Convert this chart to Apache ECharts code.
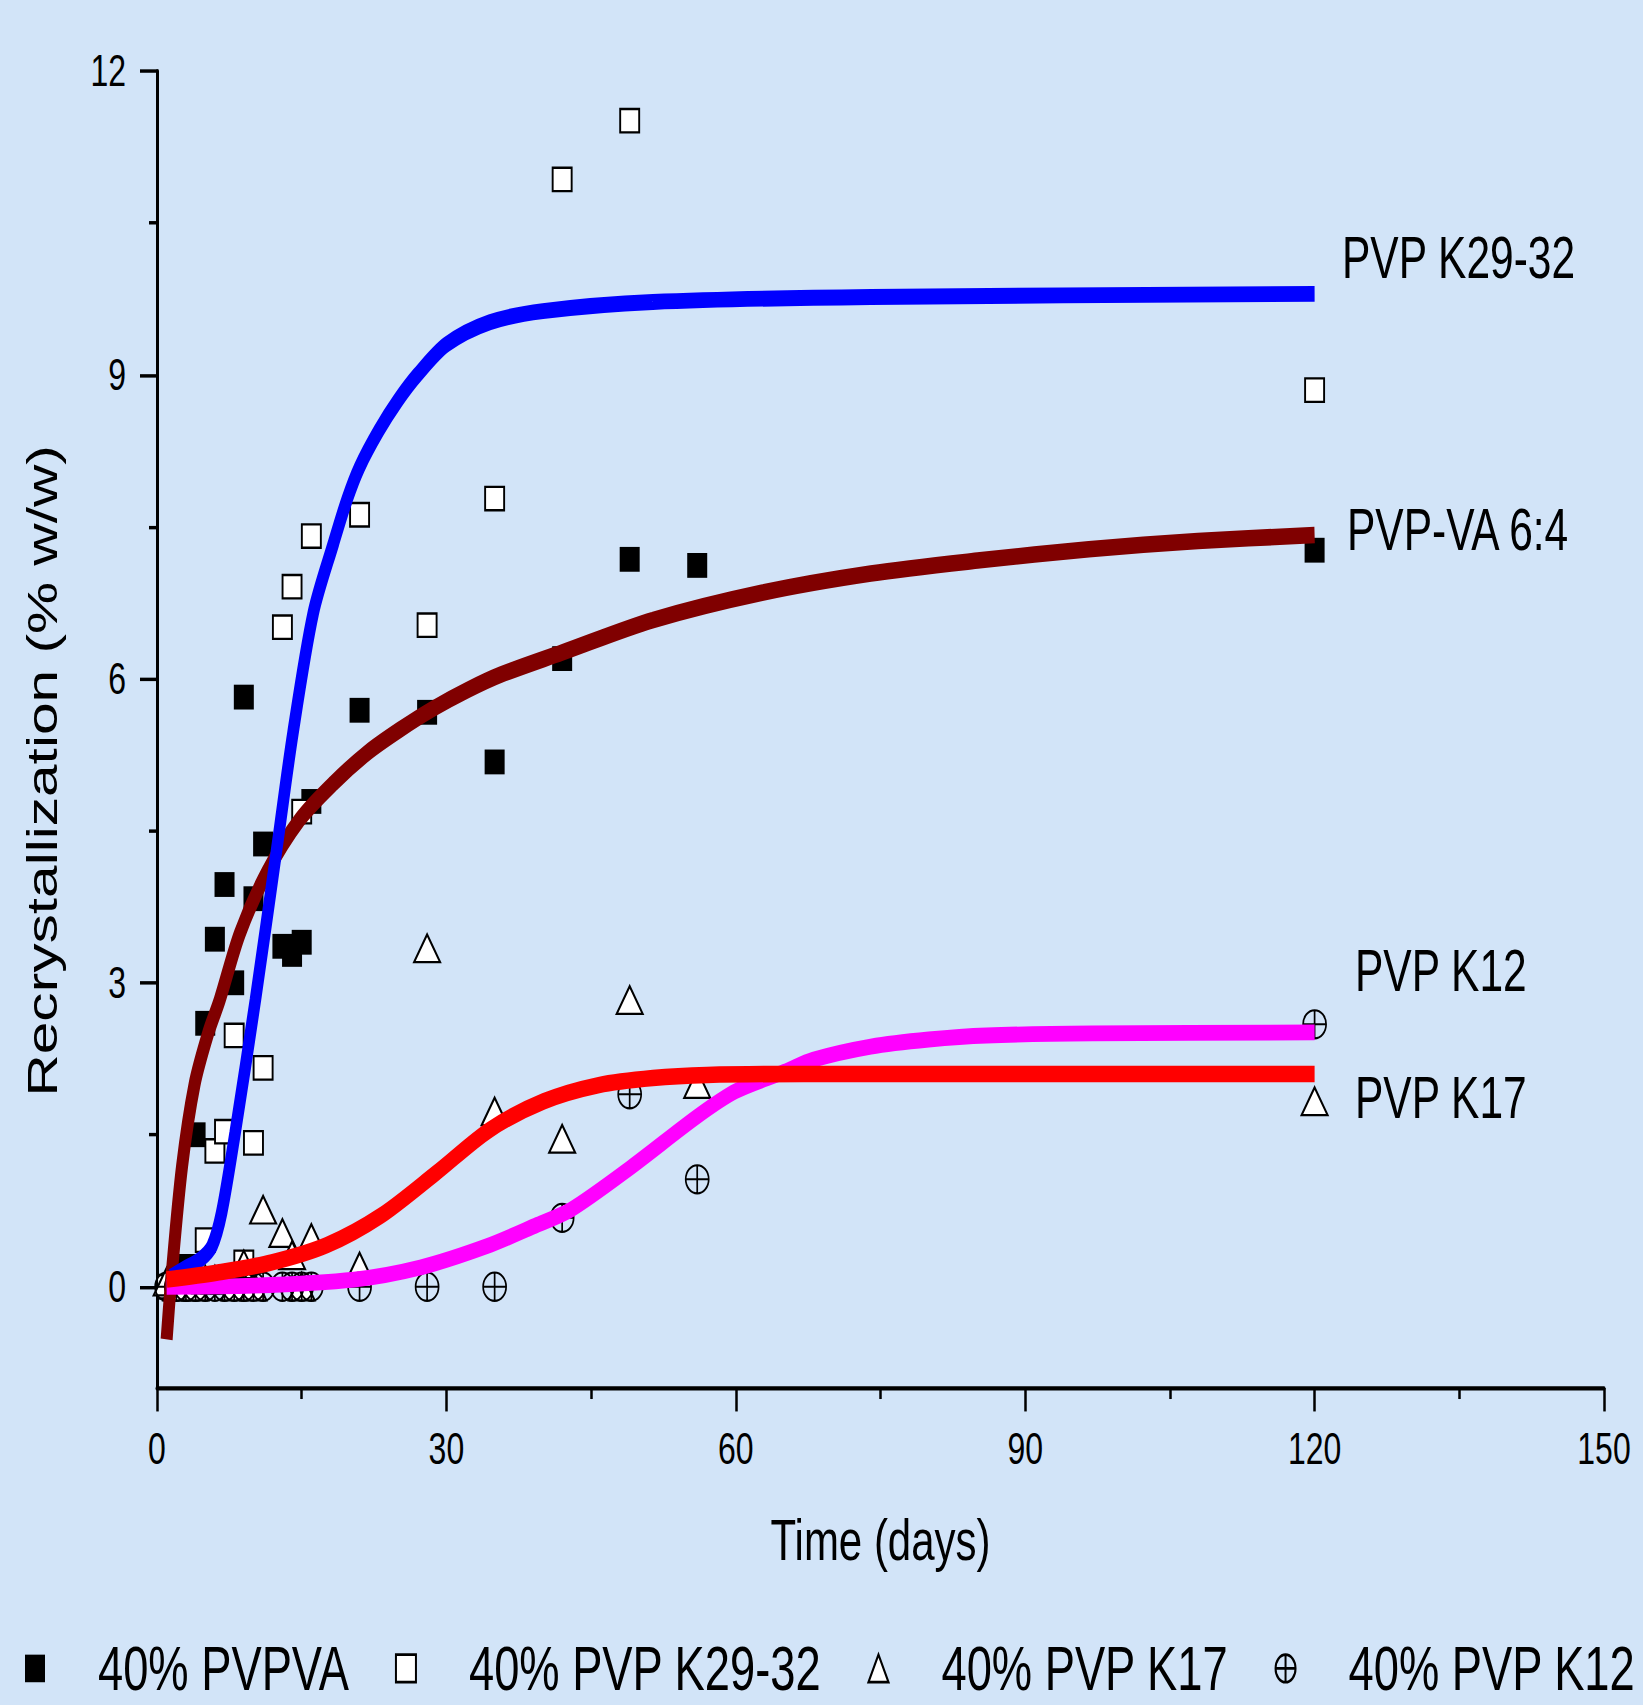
<!DOCTYPE html>
<html><head><meta charset="utf-8">
<script src="https://cdn.jsdelivr.net/npm/echarts@6/dist/echarts.min.js"></script>
<style>
html,body{margin:0;padding:0;background:#d2e4f8;width:1643px;height:1705px;overflow:hidden;}
#wrap{position:relative;width:1643px;height:1705px;overflow:hidden;}
#chart{position:absolute;left:0;top:0;width:1643px;height:1236px;transform:scaleY(1.37945);transform-origin:0 0;}
</style></head><body><div id="wrap"><div id="chart"></div></div>
<script>
// ---- data ----
const daysPVPVA = [1,2,3,4,5,6,7,8,9,10,11,13,14,15,16,21,28,35,42,49,56,120];
const valsPVPVA = [0,0,0.2,1.5,2.6,3.43,3.97,3.0,5.82,3.83,4.37,3.36,3.28,3.4,4.79,5.69,5.67,5.18,6.2,7.18,7.12,7.27];

const daysK2932 = [1,2,3,4,5,6,7,8,9,10,11,13,14,15,16,21,28,35,42,49,120];
const valsK2932 = [0,0,0,0,0.46,1.34,1.53,2.48,0.24,1.42,2.16,6.51,6.91,4.69,7.41,7.62,6.53,7.78,10.93,11.51,8.85];

const daysK17 = [1,2,3,4,5,6,7,8,9,10,11,13,14,15,16,21,28,35,42,49,56,120];
const valsK17 = [0.05,0,0,0,0.07,0.07,0.07,0,0.22,0,0.76,0.53,0.31,0,0.48,0.2,3.34,1.73,1.46,2.83,2.0,1.83];

const daysK12 = [1,2,3,4,5,6,7,8,9,10,11,13,14,15,16,21,28,35,42,49,56,120];
const valsK12 = [0,0,0,0,0,0,0,0,0,0,0,0,0,0,0,0,0,0,0.68,1.9,1.06,2.59];

// fitted curves
const fitPVPVAx = [1.0,1.5,2.6,3.9,5.3,6.5,8.6,11.4,14.8,18.3,21.8,25.2,28.7,32.2,35.6,42,51.4,62.7,74,85.3,96.6,107.9,120];
const fitPVPVAy = [-0.52,0.1,1.19,2.0,2.5,2.83,3.49,4.09,4.61,4.97,5.27,5.5,5.71,5.89,6.04,6.26,6.58,6.85,7.04,7.17,7.28,7.36,7.42];

const fitK2932x = [1.5,2.7,4.5,5.7,6.7,8.1,10.2,12.4,14.1,16.2,18.3,19.7,21,23,25,27,30,34.5,40,51.4,74,120];
const fitK2932y = [0.1,0.17,0.27,0.4,0.73,1.52,2.83,4.31,5.47,6.65,7.34,7.77,8.09,8.45,8.75,9.0,9.3,9.52,9.63,9.72,9.77,9.80];

const fitK17x = [1,6.3,11.9,17.6,23.2,28.9,34.5,40.1,45.8,51.4,57,67,120];
const fitK17y = [0.07,0.14,0.24,0.41,0.7,1.12,1.55,1.83,1.99,2.06,2.09,2.1,2.1];

const fitK12x = [1,10,20.4,27.3,34.2,39.4,42.9,49,56,60,65,68,74,80,86,97,120];
const fitK12y = [0,0.01,0.07,0.19,0.4,0.61,0.76,1.17,1.68,1.93,2.12,2.24,2.37,2.44,2.48,2.50,2.51];

const xTicks = {min:0, max:150, interval:30};
const yMajorTicks = [0,3,6,9,12];
const yMinorTicks = [1.5,4.5,7.5,10.5];
const curveLabels = ['PVP K29-32','PVP-VA 6:4','PVP K12','PVP K17'];
const legendNames = ['40% PVPVA','40% PVP K29-32','40% PVP K17','40% PVP K12'];

function zip(a,b){return a.map((v,i)=>[v,b[i]]);}

const FONT = 'Liberation Sans, Arial, sans-serif';
const chart = echarts.init(document.getElementById('chart'), null, {renderer:'svg'});

const circleCross = 'path://M0,10A10,10,0,1,1,20,10A10,10,0,1,1,0,10ZM10,0L10,20M0,10L20,10';

const option = {
  animation:false,
  backgroundColor:'#d2e4f8',
  textStyle:{fontFamily:FONT},
  grid:{left:157, right:39, top:51.5, bottom:229.8},
  xAxis:{
    type:'value', min:xTicks.min, max:xTicks.max, interval:xTicks.interval,
    axisLine:{onZero:false, lineStyle:{color:'#000', width:3}},
    axisTick:{length:17, lineStyle:{color:'#000', width:2.5}},
    minorTick:{show:true, splitNumber:2, length:8, lineStyle:{color:'#000', width:2.5}},
    splitLine:{show:false}, minorSplitLine:{show:false},
    axisLabel:{color:'#000', fontSize:32, margin:28, fontFamily:FONT},
    name:'Time (days)', nameLocation:'middle', nameGap:89,
    nameTextStyle:{color:'#000', fontSize:42, fontFamily:FONT}
  },
  yAxis:[{
    type:'value', min:-1, max:12,
    axisLine:{onZero:false, lineStyle:{color:'#000', width:3}},
    axisTick:{customValues:yMajorTicks, length:17, lineStyle:{color:'#000', width:2.5}},
    axisLabel:{customValues:yMajorTicks, color:'#000', fontSize:32, margin:31, fontFamily:FONT},
    splitLine:{show:false},
    name:'Recrystallization (% w/w)', nameLocation:'middle', nameGap:93,
    nameTextStyle:{color:'#000', fontSize:42.5, fontFamily:FONT, padding:[0,60,0,0]}
  },{
    type:'value', min:-1, max:12, position:'left',
    axisLine:{show:false},
    axisTick:{customValues:yMinorTicks, length:8, lineStyle:{color:'#000', width:2.5}},
    axisLabel:{show:false}, splitLine:{show:false}
  }],
  legend:{
    data:legendNames, left:25, top:1187, padding:0, width:1700,
    itemWidth:20, itemHeight:20, itemGap:46,
    textStyle:{color:'#000', fontSize:45.3, fontFamily:FONT, padding:[0,0,0,48]}
  },
  series:[
    {name:legendNames[0], type:'scatter', data:zip(daysPVPVA,valsPVPVA), symbol:'rect', symbolSize:[20,18],
     itemStyle:{color:'#000', borderColor:'#000', borderWidth:0, opacity:1}},
    {name:legendNames[1], type:'scatter', data:zip(daysK2932,valsK2932), symbol:'rect', symbolSize:[19,17],
     itemStyle:{color:'#fff', borderColor:'#000', borderWidth:1.8, opacity:1}},
    {name:legendNames[2], type:'scatter', data:zip(daysK17,valsK17), symbol:'triangle', symbolSize:[26,20],
     itemStyle:{color:'#fff', borderColor:'#000', borderWidth:1.8, opacity:1}},
    {name:legendNames[3], type:'scatter', data:zip(daysK12,valsK12), symbol:circleCross, symbolSize:[23,20.5],
     itemStyle:{color:'rgba(0,0,0,0)', borderColor:'#000', borderWidth:1.6, opacity:1}},
    {name:'fit PVPVA', type:'line', data:zip(fitPVPVAx,fitPVPVAy), showSymbol:false, smooth:0.3,
     lineStyle:{color:'#800000', width:12}},
    {name:'fit K29-32', type:'line', data:zip(fitK2932x,fitK2932y), showSymbol:false, smooth:0.3,
     lineStyle:{color:'#0000ff', width:11.5}},
    {name:'fit K12', type:'line', data:zip(fitK12x,fitK12y), showSymbol:false, smooth:0.3,
     lineStyle:{color:'#ff00ff', width:11.5}},
    {name:'fit K17', type:'line', data:zip(fitK17x,fitK17y), showSymbol:false, smooth:0.3,
     lineStyle:{color:'#ff0000', width:12}}
  ],
  graphic:[
    {type:'text', x:1342, y:187, style:{text:curveLabels[0], fontSize:42.5, fontFamily:FONT, fill:'#000', verticalAlign:'middle'}},
    {type:'text', x:1347, y:384, style:{text:curveLabels[1], fontSize:42.5, fontFamily:FONT, fill:'#000', verticalAlign:'middle'}},
    {type:'text', x:1355, y:704, style:{text:curveLabels[2], fontSize:42.5, fontFamily:FONT, fill:'#000', verticalAlign:'middle'}},
    {type:'text', x:1355, y:796, style:{text:curveLabels[3], fontSize:42.5, fontFamily:FONT, fill:'#000', verticalAlign:'middle'}}
  ]
};
chart.setOption(option);
</script></body></html>
